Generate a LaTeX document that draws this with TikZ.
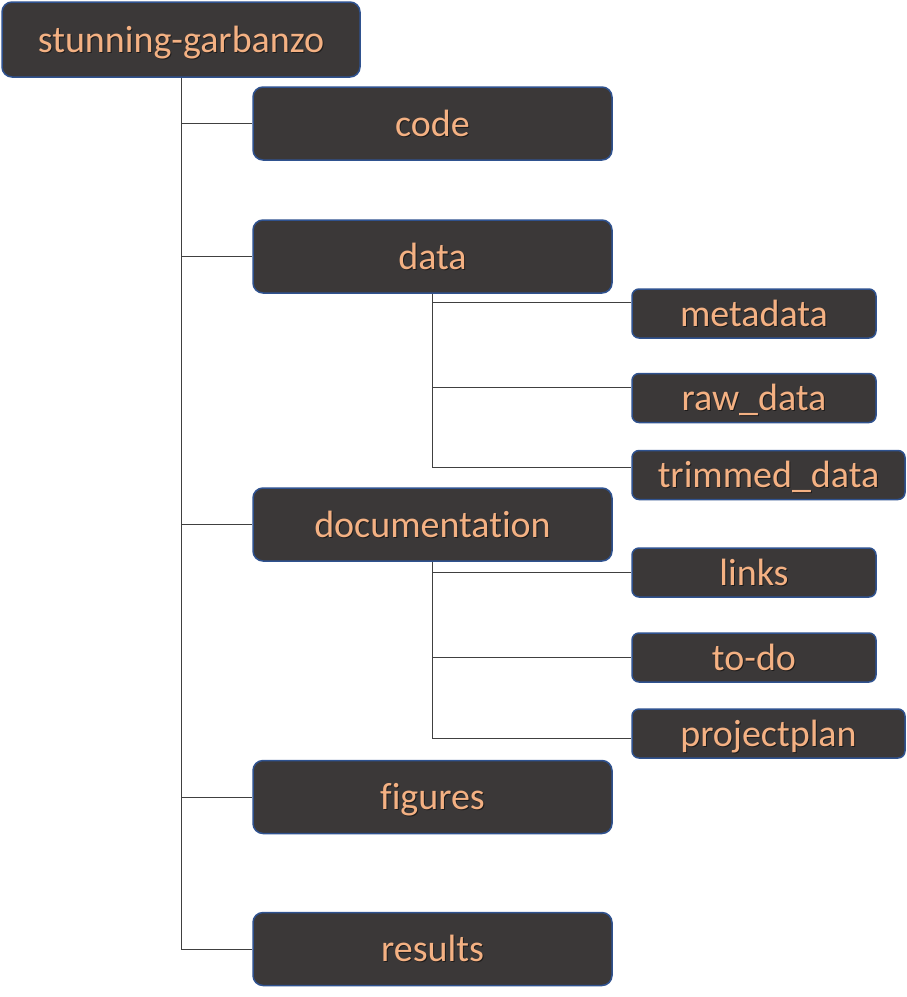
\documentclass[tikz,border=0pt]{standalone}
\usepackage{fontspec}
\setmainfont[Ligatures=CommonOff]{Carlito}
\definecolor{boxfill}{HTML}{3B3838}
\definecolor{boxline}{HTML}{2F528F}
\definecolor{txt}{HTML}{F4B183}
\definecolor{conn}{HTML}{404040}
\definecolor{shade}{HTML}{1E1C1C}
\newcommand\shadowed[1]{\makebox[0pt][l]{\hspace{1pt}\raisebox{-1pt}{\textcolor{shade}{#1}}}#1}
\begin{document}
\begin{tikzpicture}[x=1pt,y=-1pt,
  base/.style={draw=boxline, line width=1.5pt, fill=boxfill, text=txt, inner sep=0pt, anchor=center, text height=32pt, text depth=7pt, font=\fontsize{38}{44}\selectfont},
  rootbox/.style={base, rounded corners=10pt, minimum width=358pt, minimum height=75pt},
  lvone/.style={base, rounded corners=10pt, minimum width=359pt, minimum height=73pt},
  lvtwo/.style={base, rounded corners=7pt, minimum width=244pt, minimum height=49pt},
  lvtwow/.style={lvtwo, minimum width=273pt},
  link/.style={draw=conn, line width=1pt}]
\useasboundingbox (0,0) rectangle (906,997);
\node[rootbox] (root) at (181,39.5) {\shadowed{stunning-garbanzo}};
\node[lvone] (code) at (432.5,123.5) {\shadowed{code}};
\node[lvone] (data) at (432.5,256.5) {\shadowed{data}};
\node[lvone] (doc) at (432.5,524.5) {\shadowed{documentation}};
\node[lvone] (fig) at (432.5,797) {\shadowed{figures}};
\node[lvone] (res) at (432.5,949) {\shadowed{results}};
\node[lvtwo] (meta) at (754,313.5) {\shadowed{metadata}};
\node[lvtwo] (raw) at (754,398) {\shadowed{raw\_data}};
\node[lvtwow] (trim) at (768.5,475) {\shadowed{trimmed\_data}};
\node[lvtwo] (links) at (754,572.5) {\shadowed{links}};
\node[lvtwo] (todo) at (754,657.5) {\shadowed{to-do}};
\node[lvtwow] (plan) at (768.5,733.5) {\shadowed{projectplan}};
\draw[link] (root.south) |- (code.west);
\draw[link] (root.south) |- (data.west);
\draw[link] (root.south) |- (doc.west);
\draw[link] (root.south) |- (fig.west);
\draw[link] (root.south) |- (res.west);
\draw[link] (data.south) |- ([yshift=11pt]meta.west);
\draw[link] (data.south) |- ([yshift=11pt]raw.west);
\draw[link] (data.south) |- ([yshift=8pt]trim.west);
\draw[link] (doc.south) |- (links.west);
\draw[link] (doc.south) |- (todo.west);
\draw[link] (doc.south) |- ([yshift=-5pt]plan.west);
\end{tikzpicture}
\end{document}
